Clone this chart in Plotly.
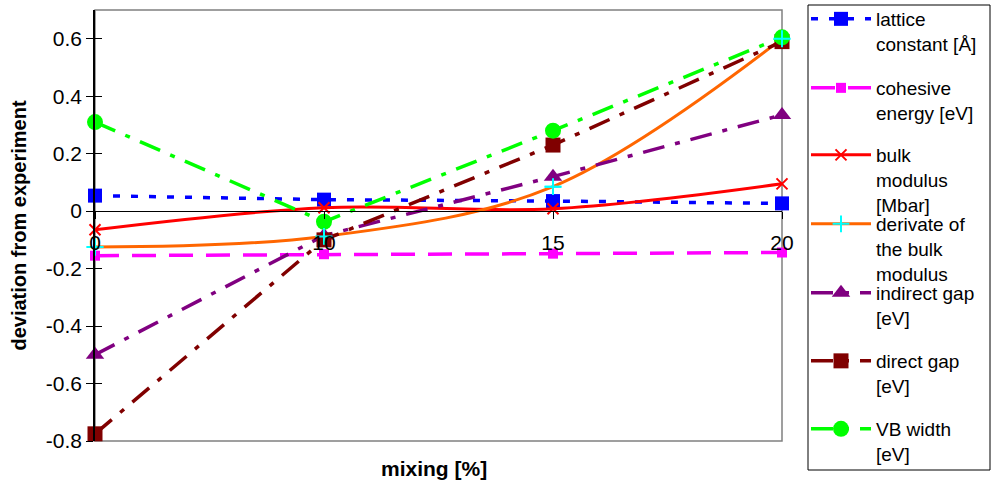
import plotly.graph_objects as go

# ---------------- data ----------------
mixing = ["0", "10", "15", "20"]
lattice_constant = [0.054, 0.040, 0.035, 0.027]
cohesive_energy = [-0.155, -0.150, -0.148, -0.144]
bulk_modulus = [-0.065, 0.012, 0.008, 0.095]
bulk_modulus_derivative = [-0.125, -0.088, 0.085, 0.600]
indirect_gap = [-0.500, -0.085, 0.120, 0.335]
direct_gap = [-0.775, -0.100, 0.230, 0.590]
vb_width = [0.310, -0.037, 0.280, 0.605]

series_names = [
    "lattice<br>constant [Å]",
    "cohesive<br>energy [eV]",
    "bulk<br>modulus<br>[Mbar]",
    "derivate of<br>the bulk<br>modulus",
    "indirect gap<br>[eV]",
    "direct gap<br>[eV]",
    "VB width<br>[eV]",
]
y_tickvals = [-0.8, -0.6, -0.4, -0.2, 0, 0.2, 0.4, 0.6]
y_ticktext = ["-0.8", "-0.6", "-0.4", "-0.2", "0", "0.2", "0.4", "0.6"]

# ---------------- layout geometry ----------------
W, H = 991, 482
ML, MR, MT, MB = 95, 209, 10, 41
PW, PH = W - ML - MR, H - MT - MB
Y_MIN, Y_MAX = -0.8, 0.7

def px_x(x):
    return (x - ML) / PW

def px_y(y):
    return (H - MB - y) / PH

def cx(x):
    return x / W

def cy(y):
    return (H - y) / H

FONT = "Liberation Sans, Arial, Helvetica, sans-serif"
DASHDOT = "22px,11px,5px,11px"

styles = [
    dict(line=dict(color="#0000FF", width=3.5, dash="7px,11px"),
         marker=dict(symbol="square", size=14, color="#0000FF")),
    dict(line=dict(color="#FF00FF", width=3.5, dash="24px,13px"),
         marker=dict(symbol="square", size=10, color="#FF00FF")),
    dict(line=dict(color="#FF0000", width=3, shape="spline"),
         marker=dict(symbol="x-thin", size=11, line=dict(color="#FF0000", width=2))),
    dict(line=dict(color="#FF6600", width=3, shape="spline"),
         marker=dict(symbol="cross-thin", size=12, line=dict(color="#00FFFF", width=2))),
    dict(line=dict(color="#800080", width=3.5, dash=DASHDOT),
         marker=dict(symbol="triangle-up", size=16, color="#800080")),
    dict(line=dict(color="#800000", width=3.5, dash=DASHDOT),
         marker=dict(symbol="square", size=15, color="#800000")),
    dict(line=dict(color="#00FF00", width=3.5, dash=DASHDOT),
         marker=dict(symbol="circle", size=16, color="#00FF00")),
]
series_values = [lattice_constant, cohesive_energy, bulk_modulus,
                 bulk_modulus_derivative, indirect_gap, direct_gap, vb_width]

legend_first_line_px = [19, 88, 155, 224, 293, 361, 429]
LEG_OFF = 19
LEG_X = cx(806)

fig = go.Figure()
legend_layout = {}
for i, (name, vals, st) in enumerate(zip(series_names, series_values, styles)):
    lname = "legend" if i == 0 else f"legend{i+1}"
    fig.add_trace(go.Scatter(
        x=mixing, y=vals, name=name, mode="lines+markers",
        line=st["line"], marker=st["marker"], cliponaxis=False,
        legend=lname,
    ))
    legend_layout[lname] = dict(
        xref="container", yref="container",
        x=LEG_X, y=cy(legend_first_line_px[i] - LEG_OFF),
        xanchor="left", yanchor="top", valign="top",
        bgcolor="rgba(0,0,0,0)", borderwidth=0, itemwidth=60,
        font=dict(family=FONT, size=19, color="black"),
        itemclick=False, itemdoubleclick=False,
    )

# markers of the derivative series drawn on top (as in the reference)
fig.add_trace(go.Scatter(
    x=mixing, y=bulk_modulus_derivative, mode="markers",
    marker=styles[3]["marker"], cliponaxis=False, showlegend=False,
    hoverinfo="skip",
))

fig.update_layout(
    width=W, height=H,
    margin=dict(l=ML, r=MR, t=MT, b=MB, pad=0, autoexpand=False),
    paper_bgcolor="white", plot_bgcolor="white",
    font=dict(family=FONT, size=21, color="black"),
    xaxis=dict(
        type="category", range=[0, 3], anchor="free",
        position=(0 - Y_MIN) / (Y_MAX - Y_MIN),
        showline=True, linecolor="black", linewidth=1,
        ticks="outside", ticklen=7, tickcolor="black",
        ticklabelstandoff=6,
        showgrid=False, zeroline=False,
        tickfont=dict(family=FONT, size=21, color="black"),
    ),
    yaxis=dict(
        range=[Y_MIN, Y_MAX], tickvals=y_tickvals, ticktext=y_ticktext,
        showline=True, linecolor="black", linewidth=1.5,
        ticks="outside", ticklen=7, tickcolor="black",
        showgrid=False, zeroline=False,
        tickfont=dict(family=FONT, size=21, color="black"),
        title=dict(text="<b>deviation from experiment</b>",
                   font=dict(family=FONT, size=20, color="black"), standoff=14),
    ),
    yaxis2=dict(
        range=[Y_MIN, Y_MAX], tickvals=y_tickvals, overlaying="y", side="left",
        showline=False, ticks="inside", ticklen=7, tickcolor="black",
        showticklabels=False, showgrid=False, zeroline=False,
    ),
    shapes=[
        dict(type="rect", xref="paper", yref="paper", x0=0, x1=1, y0=0, y1=1,
             line=dict(color="#808080", width=1.5), layer="below"),
        dict(type="rect", xref="paper", yref="paper",
             x0=px_x(808), x1=px_x(990), y0=px_y(470), y1=px_y(5),
             line=dict(color="black", width=1), layer="below"),
    ],
    annotations=[
        dict(text="<b>mixing [%]</b>", xref="paper", yref="paper",
             x=px_x(434), y=px_y(468), xanchor="center", yanchor="middle",
             showarrow=False, font=dict(family=FONT, size=21, color="black")),
    ],
    **legend_layout,
)
# dummy trace to activate yaxis2 tick overlay
fig.add_trace(go.Scatter(x=[mixing[0]], y=[None], yaxis="y2", showlegend=False,
                         hoverinfo="skip"))

fig.write_html("out.html")
